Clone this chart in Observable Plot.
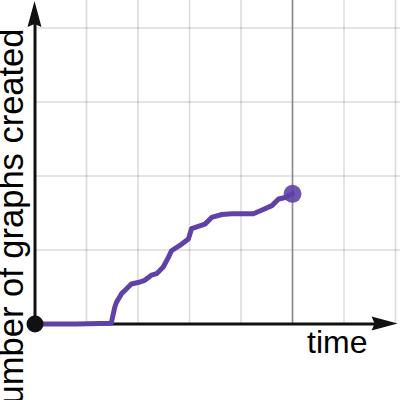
<!DOCTYPE html>
<html><head><meta charset="utf-8">
<script src="https://cdn.jsdelivr.net/npm/d3@7"></script>
<script src="https://cdn.jsdelivr.net/npm/@observablehq/plot@0.6"></script>
<style>html,body{margin:0;padding:0;background:#fff} svg{display:block}</style>
</head><body><div id="chart"></div>
<script>
// Data (grid units)
const timeValues  = [0, 0.8, 1.48, 1.55, 1.58, 1.68, 1.74, 1.87, 2.00, 2.13, 2.26, 2.36, 2.49, 2.59, 2.65, 2.85, 2.98, 3.04, 3.30, 3.43, 3.63, 3.82, 4.24, 4.41, 4.60, 4.73, 4.86, 5.0];
const graphCounts = [0, 0.0, 0.01, 0.23, 0.29, 0.41, 0.45, 0.54, 0.56, 0.59, 0.66, 0.68, 0.77, 0.90, 0.99, 1.08, 1.15, 1.29, 1.35, 1.44, 1.48, 1.49, 1.49, 1.54, 1.60, 1.69, 1.71, 1.76];
const xGridTicks = [1, 2, 3, 4, 5, 6, 7];
const yGridTicks = [1, 2, 3, 4];
const markerTime = [5];
const xLabel = "time";
const yLabel = "Number of graphs created";

// View settings
const xDomain = [-0.67, 7.097];
const yDomain = [-1.034, 4.372];
const xAxisEnd = 7.05;
const yAxisEnd = 4.36;
const purple = "#6042a6";

const data = timeValues.map((t, i) => ({t, n: graphCounts[i]}));
const first = [data[0]];
const last = [data[data.length - 1]];

// arrowheads drawn at axis ends via scales
function arrowHeads(index, scales) {
  const g = d3.create("svg:g");
  const x0 = scales.x(0), y0 = scales.y(0);
  const len = 26, hw = 7, notch = 3;
  const xt = scales.x(xAxisEnd), yt = scales.y(yAxisEnd);
  g.append("path")
    .attr("d", `M${xt},${y0}L${xt - len},${y0 - hw}L${xt - len + notch},${y0}L${xt - len},${y0 + hw}Z`)
    .attr("fill", "#111");
  g.append("path")
    .attr("d", `M${x0},${yt}L${x0 - hw},${yt + len}L${x0},${yt + len - notch}L${x0 + hw},${yt + len}Z`)
    .attr("fill", "#111");
  return g.node();
}

const chart = Plot.plot({
  width: 400,
  height: 400,
  margin: 0,
  x: {domain: xDomain, axis: null},
  y: {domain: yDomain, axis: null},
  style: {fontFamily: "'Liberation Sans', Arial, sans-serif", background: "#fff"},
  marks: [
    Plot.ruleX(xGridTicks, {x: d => d, y1: 0, y2: yDomain[1], stroke: "#000", strokeOpacity: 0.14, strokeWidth: 1.6}),
    Plot.ruleY(yGridTicks, {y: d => d, x1: 0, x2: xDomain[1], stroke: "#000", strokeOpacity: 0.14, strokeWidth: 1.6}),
    Plot.ruleX(markerTime, {x: d => d, y1: 0, y2: yDomain[1], stroke: "#8c8c8c", strokeWidth: 1.6}),
    Plot.ruleY([0], {x1: 0, x2: xAxisEnd - 0.4, stroke: "#111", strokeWidth: 3}),
    Plot.ruleX([0], {y1: 0, y2: yAxisEnd - 0.3, stroke: "#111", strokeWidth: 3}),
    arrowHeads,
    Plot.line(data, {x: "t", y: "n", stroke: purple, strokeWidth: 5, strokeLinejoin: "round", strokeLinecap: "round"}),
    Plot.dot(first, {x: "t", y: "n", r: 8.5, fill: "#111", stroke: "none"}),
    Plot.dot(last, {x: "t", y: "n", r: 9, fill: purple, fillOpacity: 0.9, stroke: "none"}),
    Plot.text([xLabel], {frameAnchor: "bottom-right", text: d => d, textAnchor: "end", lineAnchor: "bottom", dx: -33, dy: -48, fontSize: 32, fill: "#000"}),
    Plot.text([yLabel], {frameAnchor: "top-left", text: d => d, rotate: -90, textAnchor: "end", lineAnchor: "bottom", dx: 22, dy: 28, fontSize: 34.5, fill: "#000"})
  ]
});
document.getElementById("chart").appendChild(chart);
</script>
</body></html>
